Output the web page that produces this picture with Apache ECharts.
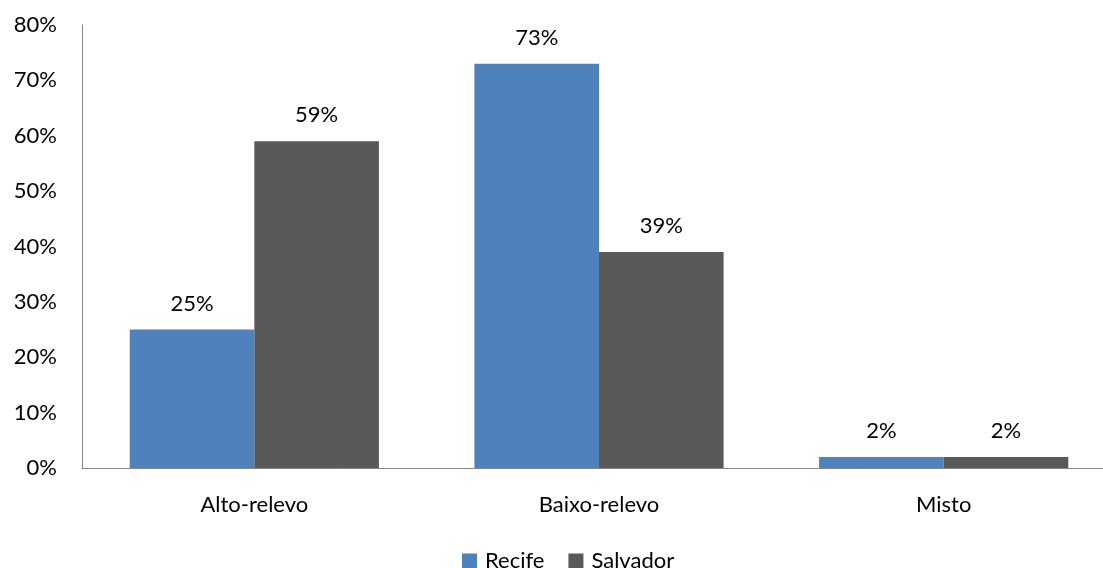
<!DOCTYPE html>
<html><head><meta charset="utf-8">
<script src="https://cdn.jsdelivr.net/npm/echarts@6/dist/echarts.min.js"></script>
<style>html,body{margin:0;padding:0;background:#fff;overflow:hidden}#c{width:1120px;height:568px}</style>
</head><body><div id="c"></div>
<script>
const categories = ['Alto-relevo', 'Baixo-relevo', 'Misto'];
const recife = [25, 73, 2];
const salvador = [59, 39, 2];
const seriesNames = ['Recife', 'Salvador'];
const FONT = 'Lato';
const FS = 22;
const chart = echarts.init(document.getElementById('c'), null, {renderer: 'canvas'});
const lbl = {show: true, position: 'top', distance: 15, formatter: p => p.value + '%', fontFamily: FONT, fontSize: FS, color: '#000'};
chart.setOption({
  animation: false,
  textStyle: {fontFamily: FONT},
  grid: {left: 82, right: 4, top: 25, height: 443, containLabel: false},
  legend: {
    top: 545, left: 457, itemWidth: 15, itemHeight: 15, itemGap: 24,
    icon: 'rect', textStyle: {fontFamily: FONT, fontSize: FS, color: '#000', padding: [0, 0, 0, 3]},
    data: seriesNames
  },
  xAxis: {
    type: 'category', data: categories,
    axisLine: {lineStyle: {color: '#868686', width: 1}},
    axisTick: {show: false},
    axisLabel: {fontFamily: FONT, fontSize: FS, color: '#000', margin: 26}
  },
  yAxis: {
    type: 'value', min: 0, max: 80, interval: 10,
    axisLine: {show: true, lineStyle: {color: '#868686', width: 1}},
    axisTick: {show: false},
    splitLine: {show: false},
    axisLabel: {fontFamily: FONT, fontSize: FS, color: '#000', margin: 25, formatter: v => v + '%'}
  },
  series: [
    {name: seriesNames[0], type: 'bar', data: recife, barGap: '0%', barCategoryGap: '27.7%', itemStyle: {color: '#4F81BD'}, label: lbl},
    {name: seriesNames[1], type: 'bar', data: salvador, barGap: '0%', barCategoryGap: '27.7%', itemStyle: {color: '#595959'}, label: lbl}
  ]
});
</script></body></html>
